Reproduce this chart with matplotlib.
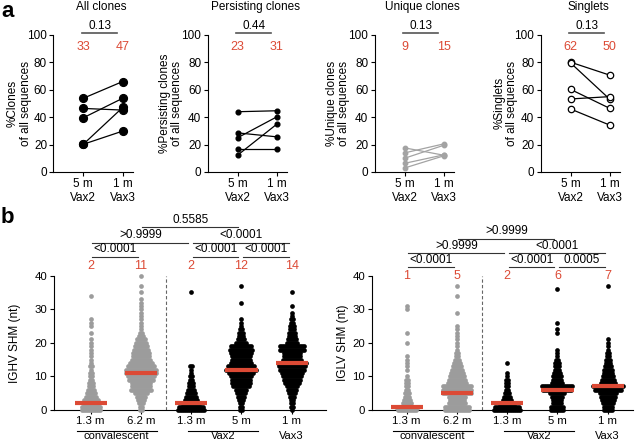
import numpy as np
import matplotlib.pyplot as plt

plt.rcParams['font.family'] = ['Liberation Sans', 'DejaVu Sans']

W, H = 642, 443
RED = '#dc4a35'
GREY = '#9c9c9c'

# ---- panel a: paired values (5 m Vax2 -> 1 m Vax3) ----
a_titles = ['All clones', 'Persisting clones', 'Unique clones', 'Singlets']
a_ylabels = ['%Clones\nof all sequences', '%Persisting clones\nof all sequences',
             '%Unique clones\nof all sequences', '%Singlets\nof all sequences']
a_xticks = ['5 m\nVax2', '1 m\nVax3']
all_vax2 = [53.7, 46.3, 39.5, 20.2, 20.2]
all_vax3 = [65.9, 45.1, 53.7, 47.0, 29.8]
pers_vax2 = [43.9, 28.5, 24.9, 16.8, 12.2]
pers_vax3 = [44.6, 25.6, 40.2, 16.8, 34.9]
uniq_vax2 = [17.6, 13.9, 10.0, 6.3, 2.9]
uniq_vax3 = [12.2, 20.5, 19.5, 12.5, 11.8]
sing_vax2 = [80.0, 79.5, 60.2, 53.2, 45.9]
sing_vax3 = [70.5, 52.9, 46.3, 54.9, 34.1]
a_pvals = ['0.13', '0.44', '0.13', '0.13']
a_red = [('33', '47'), ('23', '31'), ('9', '15'), ('62', '50')]

# ---- panel b: number of sequences per SHM value (index = nt mutations) ----
groups_b = ['1.3 m', '6.2 m', '1.3 m', '5 m', '1 m']
ighv_conv_13 = [10, 10, 9, 8, 6, 5, 4, 3, 3, 2, 2, 2, 1, 2, 1, 1, 1, 1, 1, 1, 1, 1, 0, 1,
                0, 1, 1, 1, 0, 0, 0, 0, 0, 0, 1]
ighv_conv_62 = [2, 2, 3, 4, 5, 7, 11, 10, 10, 13, 14, 16, 16, 14, 12, 10, 9, 9, 8, 7, 6, 5,
                3, 2, 1, 1, 1, 1, 1, 1, 1, 1, 1, 1, 0, 1, 0, 1, 0, 0, 1]
ighv_vax2_13 = [14, 13, 10, 7, 6, 5, 4, 3, 3, 2, 2, 1, 1, 2, 0, 0, 0, 0, 0, 0, 0, 0, 0, 0,
                0, 0, 0, 0, 0, 0, 0, 0, 0, 0, 0, 1]
ighv_vax2_5 = [2, 2, 2, 3, 4, 5, 6, 9, 10, 10, 11, 13, 16, 14, 11, 10, 10, 11, 12, 11, 6, 4,
               3, 3, 2, 1, 1, 1, 0, 0, 0, 0, 1, 0, 0, 0, 0, 1]
ighv_vax3_1 = [1, 2, 2, 2, 3, 4, 5, 6, 8, 9, 10, 11, 13, 14, 15, 10, 9, 9, 13, 13, 6, 5,
               4, 4, 3, 3, 2, 2, 1, 1, 0, 1, 0, 0, 0, 1]
iglv_conv_13 = [10, 12, 5, 4, 3, 3, 2, 2, 2, 2, 1, 0, 1, 1, 1, 1, 1, 0, 0, 0, 1, 0, 0, 1,
                0, 0, 0, 0, 0, 0, 1, 1]
iglv_conv_62 = [13, 13, 9, 8, 9, 15, 15, 15, 10, 9, 8, 7, 6, 5, 4, 3, 2, 2, 1, 1, 1, 1,
                1, 1, 1, 1, 0, 0, 0, 1, 0, 0, 0, 0, 1, 0, 0, 1]
iglv_vax2_13 = [14, 13, 9, 5, 4, 3, 2, 2, 2, 2, 1, 1, 0, 0, 1]
iglv_vax2_5 = [7, 7, 5, 5, 6, 8, 15, 16, 6, 5, 5, 4, 3, 3, 3, 2, 1, 1, 1, 0, 0, 0, 0, 1,
               1, 0, 1, 0, 0, 0, 0, 0, 0, 0, 0, 0, 1]
iglv_vax3_1 = [5, 5, 6, 7, 8, 9, 14, 16, 8, 7, 6, 5, 5, 4, 3, 3, 2, 2, 1, 1, 1, 1, 0, 0,
               0, 0, 0, 0, 0, 0, 0, 0, 0, 0, 0, 0, 0, 1]
ighv_medians = [2, 11, 2, 12, 14]
iglv_medians = [1, 5, 2, 6, 7]
ighv_tests = [(1, 3, '0.5585'), (0, 2, '>0.9999'), (2, 4, '<0.0001'),
              (0, 1, '<0.0001'), (2, 3, '<0.0001'), (3, 4, '<0.0001')]
iglv_tests = [(1, 3, '>0.9999'), (0, 2, '>0.9999'), (2, 4, '<0.0001'),
              (0, 1, '<0.0001'), (2, 3, '<0.0001'), (3, 4, '0.0005')]
test_rows = [0, 1, 1, 2, 2, 2]


def px_axes(fig, left, top, right, bottom):
    return fig.add_axes([left / W, 1 - bottom / H, (right - left) / W, (bottom - top) / H])


def style(ax, size=8.5):
    for s in ['top', 'right']:
        ax.spines[s].set_visible(False)
    for s in ['left', 'bottom']:
        ax.spines[s].set_linewidth(0.8)
    ax.tick_params(width=0.8, length=3, labelsize=size, pad=1.5)


fig = plt.figure(figsize=(W / 100, H / 100), dpi=100)

# ---------------- panel a ----------------
cat0 = [83.3, 237.5, 404.5, 570.5]
ppu_a = 39.4
a_data = [(all_vax2, all_vax3), (pers_vax2, pers_vax3), (uniq_vax2, uniq_vax3), (sing_vax2, sing_vax3)]
a_style = [dict(color='k', ms=5.6, mfc='k', mec='k'),
           dict(color='k', ms=3.4, mfc='k', mec='k'),
           dict(color='#a3a3a3', ms=3.2, mfc='#a3a3a3', mec='#a3a3a3'),
           dict(color='k', ms=4.6, mfc='white', mec='k', mew=0.9)]
ylab_x = [19.5, 171, 338, 506]
for i in range(4):
    x0 = cat0[i]
    ax = px_axes(fig, x0 - 0.76 * ppu_a, 34.7, x0 + 1.25 * ppu_a, 172)
    style(ax)
    ax.set_xlim(-0.76, 1.25)
    ax.set_ylim(0, 100)
    ax.set_yticks([0, 20, 40, 60, 80, 100])
    ax.set_xticks([0, 1])
    ax.set_xticklabels(a_xticks)
    pre, post = a_data[i]
    for p, q in zip(pre, post):
        ax.plot([0, 1], [p, q], marker='o', lw=0.9, clip_on=False, zorder=3, **a_style[i])
    ax.text(0.45, 120.5, a_titles[i], ha='center', va='center', fontsize=8.5)
    ax.plot([-0.03, 0.86], [101.5, 101.5], color='#555555', lw=1.2, clip_on=False)
    ax.text(0.42, 106, a_pvals[i], ha='center', va='center', fontsize=8.5)
    ax.text(0, 91.3, a_red[i][0], ha='center', va='center', fontsize=9, color=RED)
    ax.text(1, 91.3, a_red[i][1], ha='center', va='center', fontsize=9, color=RED)
    fig.text(ylab_x[i] / W, 1 - 103 / H, a_ylabels[i], rotation=90, ha='center', va='center',
             multialignment='center', fontsize=8.5, linespacing=1.1)

fig.text(1 / W, 1 - 1 / H, 'a', fontsize=16, fontweight='bold', ha='left', va='top')
fig.text(1 / W, 1 - 207 / H, 'b', fontsize=16, fontweight='bold', ha='left', va='top')

# ---------------- panel b ----------------
ppu_b = 50.25
colors_b = [GREY, GREY, 'k', 'k', 'k']
b_panels = [
    dict(x0=90.7, xl=(-0.74, 4.68), data=[ighv_conv_13, ighv_conv_62, ighv_vax2_13, ighv_vax2_5, ighv_vax3_1],
         med=ighv_medians, tests=ighv_tests, rows=[54.4, 49.8, 45.7], red=42.9,
         ylabel='IGHV SHM (nt)', ylx=15),
    dict(x0=406.7, xl=(-0.70, 4.50), data=[iglv_conv_13, iglv_conv_62, iglv_vax2_13, iglv_vax2_5, iglv_vax3_1],
         med=iglv_medians, tests=iglv_tests, rows=[51.0, 46.7, 42.5], red=39.8,
         ylabel='IGLV SHM (nt)', ylx=343),
]
step = 2.0 / ppu_b
for pb in b_panels:
    x0 = pb['x0']
    ax = px_axes(fig, x0 + pb['xl'][0] * ppu_b, 275.7, x0 + pb['xl'][1] * ppu_b, 410)
    style(ax, 8.2)
    ax.tick_params(axis='x', pad=1)
    ax.set_xlim(*pb['xl'])
    ax.set_ylim(0, 40)
    ax.set_yticks([0, 10, 20, 30, 40])
    ax.set_xticks(range(5))
    ax.set_xticklabels(groups_b)
    for g, counts in enumerate(pb['data']):
        xs, ys = [], []
        for v, n in enumerate(counts):
            for k in range(n):
                xs.append(g + (k - (n - 1) / 2) * step)
                ys.append(v)
        ax.scatter(xs, ys, s=11.5, color=colors_b[g], linewidths=0, clip_on=False, zorder=3)
        m = pb['med'][g]
        ax.plot([g - 0.32, g + 0.32], [m, m], color=RED, lw=3.0, solid_capstyle='butt',
                zorder=4, clip_on=False)
        ax.text(g, pb['red'], str(m), ha='center', va='center', fontsize=9, color=RED)
    ax.axvline(1.5, ymin=0, ymax=1, color='#666666', lw=0.8, ls=(0, (3, 2)))
    for (i, j, lab), r in zip(pb['tests'], test_rows):
        y = pb['rows'][r]
        ax.plot([i + 0.03, j - 0.06], [y, y], color='#333333', lw=0.8, clip_on=False)
        ax.text((i + j) / 2 - 0.01, y + 0.4, lab, ha='center', va='bottom', fontsize=8.5)
    # group labels under the tick labels (line at ~431 px, text centre ~436 px)
    ax.plot([-0.27, 1.32], [-6.3, -6.3], color='k', lw=0.8, clip_on=False)
    ax.text(0.5, -7.75, 'convalescent', ha='center', va='center', fontsize=8)
    ax.plot([1.94, 3.33], [-6.3, -6.3], color='k', lw=0.8, clip_on=False)
    ax.text(2.63, -7.75, 'Vax2', ha='center', va='center', fontsize=8)
    ax.text(4, -7.75, 'Vax3', ha='center', va='center', fontsize=8)
    fig.text(pb['ylx'] / W, 1 - 343 / H, pb['ylabel'], rotation=90, ha='center', va='center',
             fontsize=8.5)

fig.savefig('out.png', dpi=100)
